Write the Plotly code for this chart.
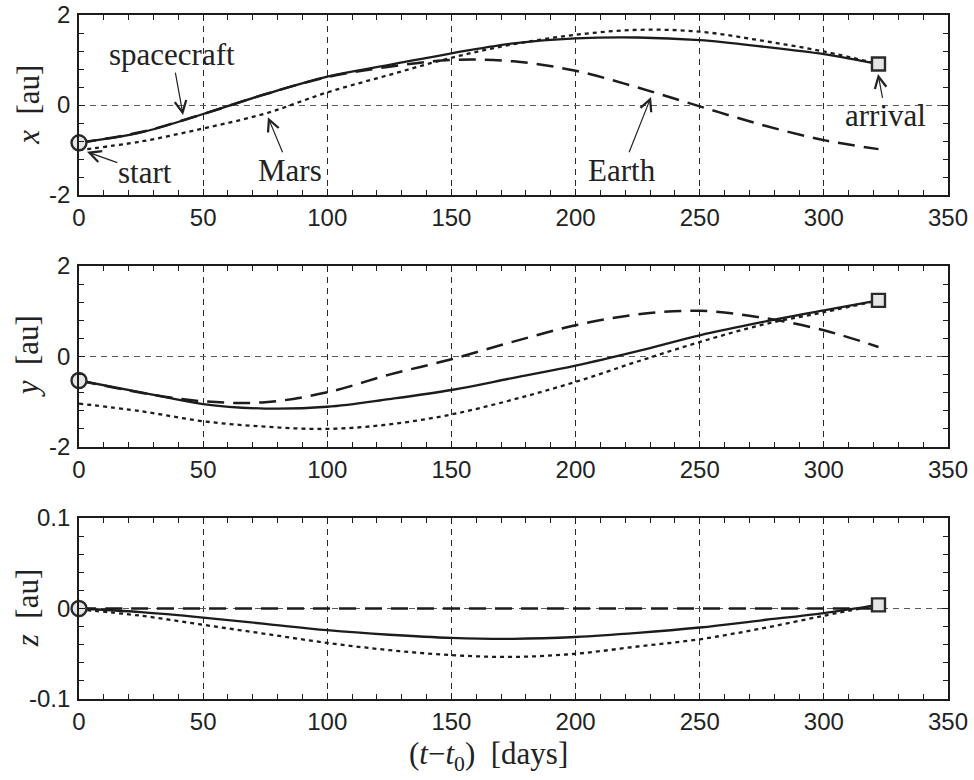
import numpy as np
import plotly.graph_objects as go
from plotly.subplots import make_subplots

# Time since departure [days]
days = [0, 25, 50, 75, 100, 125, 150, 175, 200, 225, 250, 275, 300, 322]

# Heliocentric x [au]
sc_x    = [-0.84, -0.61, -0.20, 0.24, 0.63, 0.89, 1.15, 1.37, 1.48, 1.50, 1.44, 1.30, 1.13, 0.91]
earth_x = [-0.84, -0.60, -0.20, 0.24, 0.62, 0.85, 1.00, 0.97, 0.76, 0.39, -0.03, -0.44, -0.78, -0.98]
mars_x  = [-1.00, -0.81, -0.52, -0.19, 0.28, 0.67, 1.05, 1.35, 1.56, 1.67, 1.63, 1.43, 1.19, 0.91]

# Heliocentric y [au]
sc_y    = [-0.53, -0.79, -1.05, -1.15, -1.11, -0.94, -0.74, -0.47, -0.20, 0.12, 0.47, 0.76, 1.02, 1.24]
earth_y = [-0.53, -0.80, -0.99, -1.01, -0.79, -0.40, -0.06, 0.33, 0.69, 0.93, 1.01, 0.86, 0.58, 0.21]
mars_y  = [-1.04, -1.21, -1.43, -1.55, -1.60, -1.50, -1.28, -0.95, -0.56, -0.11, 0.32, 0.70, 0.98, 1.24]

# Heliocentric z [au]
sc_z    = [0.0, -0.004, -0.010, -0.017, -0.024, -0.029, -0.0325, -0.0335, -0.0315, -0.027, -0.021, -0.013, -0.005, 0.004]
earth_z = [0.0, 0.0, 0.0, 0.0, 0.0, 0.0, 0.0, 0.0, 0.0, 0.0, 0.0, 0.0, 0.0, 0.0]
mars_z  = [-0.001, -0.008, -0.018, -0.028, -0.038, -0.046, -0.0515, -0.0535, -0.050, -0.042, -0.034, -0.022, -0.008, 0.004]

# Axis ticks
x_ticks = [0, 50, 100, 150, 200, 250, 300, 350]
y_ticks_xy = [-2, 0, 2]
y_ticks_z = [-0.1, 0, 0.1]
y_ticktext_xy = ["-2", "0", "2"]
y_ticktext_z = ["-0.1", "0", "0.1"]

INK = "#1c1c1c"
TICKFONT = dict(family="Liberation Sans", size=24, color="#222222")
SERIF = "Liberation Serif"
SERIF_SIZE = 31

fig = make_subplots(rows=3, cols=1, shared_xaxes=False, vertical_spacing=0.1)

panels = [
    (sc_x, earth_x, mars_x),
    (sc_y, earth_y, mars_y),
    (sc_z, earth_z, mars_z),
]

for row, (sc, ea, ma) in enumerate(panels, start=1):
    fig.add_trace(go.Scatter(x=days, y=ma, mode="lines", line=dict(color=INK, width=2.3, dash="4px,4px", shape="spline", smoothing=1.0),
                             showlegend=False), row=row, col=1)
    fig.add_trace(go.Scatter(x=days, y=ea, mode="lines", line=dict(color=INK, width=2.5, dash="17px,9px", shape="spline", smoothing=1.0),
                             showlegend=False), row=row, col=1)
    fig.add_trace(go.Scatter(x=days, y=sc, mode="lines", line=dict(color=INK, width=2.3, shape="spline", smoothing=1.0),
                             showlegend=False), row=row, col=1)
    # departure and arrival markers
    fig.add_trace(go.Scatter(x=[days[0]], y=[sc[0]], mode="markers", cliponaxis=False,
                             marker=dict(symbol="circle", size=15, color="#e6e6e6", line=dict(color="#2a2a2a", width=2.4)),
                             showlegend=False), row=row, col=1)
    fig.add_trace(go.Scatter(x=[days[-1]], y=[sc[-1]], mode="markers", cliponaxis=False,
                             marker=dict(symbol="square", size=13, color="#e6e6e6", line=dict(color="#2a2a2a", width=2.4)),
                             showlegend=False), row=row, col=1)

# panel geometry (paper fractions)
domains = [(0.7368, 1.0), (0.3684, 0.6330), (0.0, 0.2646)]

for i in range(3):
    n = "" if i == 0 else str(i + 1)
    fig.layout["xaxis" + n].update(
        domain=[0, 1], range=[0, 350], tickmode="array", tickvals=x_ticks, automargin=False,
        ticks="inside", ticklen=6, tickwidth=1, tickcolor=INK,
        showline=True, linewidth=1.6, linecolor=INK, mirror="ticks",
        showgrid=True, gridcolor="#2a2a2a", gridwidth=1, griddash="6px,5px",
        zeroline=False, tickfont=TICKFONT, ticklabelstandoff=0,
        minor=dict(tickmode="array", tickvals=list(np.arange(0, 351, 10)), ticks="inside",
                   ticklen=5, tickcolor=INK, tickwidth=1, showgrid=False),
    )
    if i < 2:
        yr, yt, ytt, ym = [-2, 2], y_ticks_xy, y_ticktext_xy, list(np.round(np.arange(-2, 2.01, 0.4), 2))
    else:
        yr, yt, ytt, ym = [-0.1, 0.1], y_ticks_z, y_ticktext_z, list(np.round(np.arange(-0.1, 0.101, 0.02), 3))
    fig.layout["yaxis" + n].update(
        domain=list(domains[i]), range=yr, tickmode="array", tickvals=yt, ticktext=ytt, automargin=False,
        ticks="inside", ticklen=6, tickwidth=1, tickcolor=INK,
        showline=True, linewidth=1.6, linecolor=INK, mirror="ticks",
        showgrid=True, gridcolor="#5a5a5a", gridwidth=1, griddash="6px,5px",
        zeroline=False, tickfont=TICKFONT, ticklabelstandoff=2,
        minor=dict(tickmode="array", tickvals=ym, ticks="inside",
                   ticklen=5, tickcolor=INK, tickwidth=1, showgrid=False),
    )

# axis labels
ylabels = ["<i>x</i>  [au]", "<i>y</i>  [au]", "<i>z</i>  [au]"]
for i, lab in enumerate(ylabels):
    n = "" if i == 0 else str(i + 1)
    fig.add_annotation(text=lab, xref="paper", yref="y" + n + " domain", x=-0.059, y=0.5,
                       xanchor="center", yanchor="middle", textangle=-90, showarrow=False,
                       font=dict(family=SERIF, size=SERIF_SIZE, color="#222222"))

fig.add_annotation(text="(<i>t</i>\u2212<i>t</i><sub>0</sub>)  [days]", xref="paper", yref="paper",
                   x=0.4707, y=-0.083, xanchor="center", yanchor="middle", showarrow=False,
                   font=dict(family=SERIF, size=SERIF_SIZE, color="#222222"))

# labelled arrows in the x panel: (text, text_x, text_y, tip_x, tip_y)
callouts = [
    ("spacecraft", 37.5, 1.12, 41.9, -0.22),
    ("Mars", 85.0, -1.45, 76.1, -0.27),
    ("start", 26.5, -1.50, 3.2, -1.04),
    ("Earth", 218.7, -1.45, 230.4, 0.18),
    ("arrival", 325.0, -0.24, 321.8, 0.69),
]
for text, tx, ty, hx, hy in callouts:
    fig.add_annotation(x=hx, y=hy, ax=tx, ay=ty, xref="x", yref="y", axref="x", ayref="y",
                       text=text, showarrow=True, arrowhead=5, arrowsize=1.9, arrowwidth=1.2,
                       arrowcolor="#222222", standoff=0, borderpad=0,
                       font=dict(family=SERIF, size=SERIF_SIZE, color="#222222"))

fig.update_layout(
    width=974, height=780,
    margin=dict(l=79, r=26, t=15, b=81),
    paper_bgcolor="white", plot_bgcolor="white",
    showlegend=False,
)

fig.write_html("out.html")
